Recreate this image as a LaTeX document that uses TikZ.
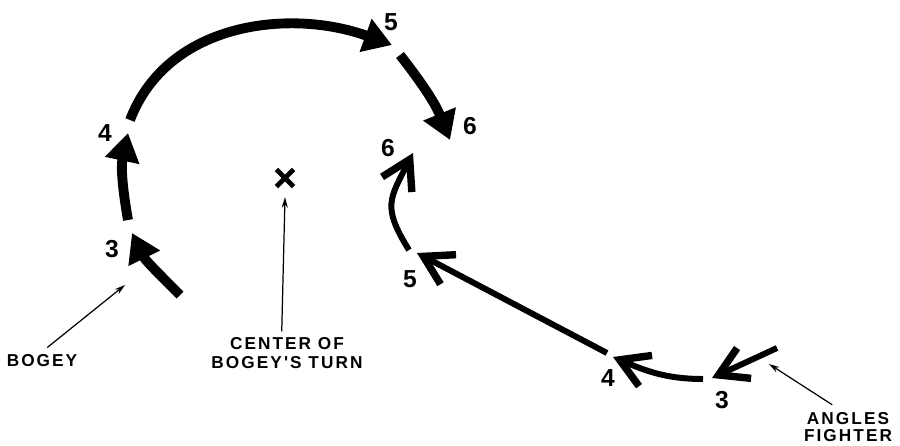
\documentclass[tikz,border=0pt]{standalone}
\usepackage{fontspec}
\setmainfont{Liberation Sans}
\newfontfamily\spacedfont[LetterSpace=12]{Liberation Sans}
\usetikzlibrary{arrows.meta,shapes.misc}

\begin{document}
\begin{tikzpicture}[
        x=0.02cm, y=0.02cm,
        bogeyarc/.style={line width=5.6pt, -{Triangle[length=16pt,width=19pt]}},
        fighterarc/.style={line width=3.4pt, -{Straight Barb[length=16pt,width=19pt,line width=4.2pt,sharp]}},
        num/.style={font=\bfseries\fontsize{14}{14}\selectfont, inner sep=0pt},
        callout/.style={font=\spacedfont\bfseries\fontsize{9.8}{11.3}\selectfont, align=center, inner sep=1pt},
        pointer/.style={-{Stealth[length=6pt,width=3.5pt]}, line width=0.7pt}
    ]
    \useasboundingbox (0,0) rectangle (900,-446);

    % Bogey's turn
    \coordinate (b2) at (180,-295);
    \coordinate (b3) at (132,-233);
    \coordinate (b3s) at (128,-220);
    \coordinate (b4) at (128,-133);
    \coordinate (b4s) at (130,-120);
    \coordinate (b5) at (392,-45);
    \coordinate (b5s) at (400,-55);
    \coordinate (b6) at (450,-140);
    \draw[bogeyarc] (b2) to[out=135,in=296] (b3);
    \draw[bogeyarc] (b3s) to[out=100,in=258] (b4);
    \draw[bogeyarc] (b4s) to[out=69,in=160] (b5);
    \draw[bogeyarc] (b5s) to[out=-52,in=112] (b6);
    \node[num] (b3lbl) at (112,-249) {3};
    \node[num] (b4lbl) at (105,-133) {4};
    \node[num] (b5lbl) at (391,-22) {5};
    \node[num] (b6lbl) at (470,-126) {6};

    % Center of the turn
    \node[cross out, draw, line width=2.8pt, minimum size=7pt, inner sep=0pt] (ctr) at (285,-178) {};

    % Angles fighter
    \coordinate (f2) at (777,-348);
    \coordinate (f3) at (712,-378);
    \coordinate (f3s) at (703,-379);
    \coordinate (f4) at (613,-357);
    \coordinate (f4s) at (607,-353);
    \coordinate (f5) at (417,-253);
    \coordinate (f5s) at (409,-250);
    \coordinate (f6) at (413,-153);
    \draw[fighterarc] (f2) -- (f3);
    \draw[fighterarc] (f3s) to[out=180,in=-23] (f4);
    \draw[fighterarc] (f4s) -- (f5);
    \draw[fighterarc] (f5s) to[out=122,in=243,looseness=1.35] (f6);
    \node[num] (f3lbl) at (722,-400) {3};
    \node[num] (f4lbl) at (608,-378) {4};
    \node[num] (f5lbl) at (410,-279) {5};
    \node[num] (f6lbl) at (388,-148) {6};

    % Callouts
    \node[callout] (bogeylbl) at (42,-361) {BOGEY};
    \node[callout] (centerlbl) at (287,-353) {CENTER OF\\BOGEY'S TURN};
    \node[callout, font=\spacedfont\bfseries\fontsize{9.8}{10}\selectfont] (fighterlbl) at (848,-427) {ANGLES\\FIGHTER};
    \coordinate (bogeytip) at (125,-285);
    \coordinate (fightertip) at (769,-364);
    \draw[pointer] ([xshift=3pt,yshift=3pt]bogeylbl.north) -- (bogeytip);
    \draw[pointer] ([xshift=-3pt,yshift=2pt]centerlbl.north) -- ([yshift=-6pt]ctr.south);
    \draw[pointer] ([xshift=-9pt,yshift=3pt]fighterlbl.north) -- (fightertip);
\end{tikzpicture}
\end{document}
